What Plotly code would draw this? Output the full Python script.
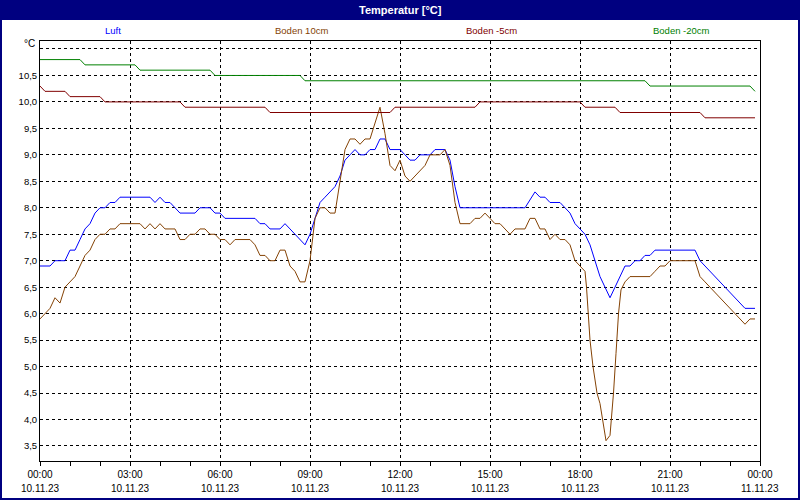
import plotly.graph_objects as go
import pandas as pd

DAY = "2023-11-10 "

# Luft (air temperature)
luft_t = ["00:00","00:20","00:30","00:50","01:00","01:10","01:20","01:30","01:40","01:50",
          "02:00","02:10","02:20","02:30","02:40","03:40","03:50","04:00","04:10","04:20",
          "04:30","04:40","05:10","05:20","05:40","05:50","06:00","06:10","07:10","07:20",
          "07:30","07:40","08:00","08:10","08:20","08:30","08:40","08:50","09:00","09:10",
          "09:20","09:30","09:40","09:50","10:00","10:10","10:20","10:30","10:40","10:50",
          "11:00","11:10","11:20","11:30","11:40","12:00","12:10","12:20","12:30","12:40",
          "13:00","13:10","13:30","13:40","13:50","14:00","16:10","16:30","16:40","16:50",
          "17:00","17:20","17:30","17:40","17:50","18:00","18:10","18:20","18:30","18:40",
          "18:50","19:00","19:10","19:20","19:30","19:40","19:50","20:00","20:10","20:20",
          "20:30","21:50","22:00","22:10","22:30","23:00","23:30","23:50"]
luft_v = [6.9,6.9,7.0,7.0,7.2,7.2,7.4,7.6,7.7,7.9,
          8.0,8.0,8.1,8.1,8.2,8.2,8.1,8.2,8.1,8.1,
          8.0,7.9,7.9,8.0,8.0,7.9,7.9,7.8,7.8,7.7,
          7.7,7.6,7.6,7.7,7.6,7.5,7.4,7.3,7.5,7.8,
          8.1,8.2,8.3,8.4,8.6,8.9,9.0,9.1,9.0,9.0,
          9.1,9.1,9.3,9.3,9.1,9.1,9.0,8.9,8.9,9.0,
          9.0,9.1,9.1,8.9,8.4,8.0,8.0,8.3,8.2,8.2,
          8.1,8.1,8.0,7.9,7.7,7.6,7.5,7.3,7.0,6.7,
          6.5,6.3,6.5,6.7,6.9,6.9,7.0,7.0,7.1,7.1,
          7.2,7.2,7.0,6.9,6.7,6.4,6.1,6.1]

# Boden 10cm
b10_t = ["00:00","00:10","00:20","00:30","00:40","00:50","01:00","01:10","01:20","01:30",
         "01:40","01:50","02:00","02:10","02:20","02:30","02:40","03:20","03:30","03:40",
         "03:50","04:00","04:10","04:30","04:40","04:50","05:00","05:10","05:20","05:30",
         "05:40","05:50","06:00","06:10","06:20","06:30","07:00","07:10","07:20","07:30",
         "07:40","07:50","08:00","08:10","08:20","08:30","08:40","08:50","09:00","09:10",
         "09:20","09:30","09:40","09:50","10:00","10:10","10:20","10:30","10:40","10:50",
         "11:00","11:10","11:20","11:30","11:40","11:50","12:00","12:10","12:20","12:30",
         "12:40","12:50","13:00","13:20","13:30","13:40","13:50","14:00","14:20","14:30",
         "14:40","14:50","15:00","15:10","15:20","15:30","15:40","15:50","16:10","16:20",
         "16:30","16:40","16:50","17:00","17:10","17:20","17:30","17:40","17:50","18:00",
         "18:10","18:13","18:20","18:26","18:34","18:40","18:47","18:52","19:00","19:07",
         "19:12","19:17","19:22","19:30","19:40","20:20","20:30","20:40","20:50","21:00",
         "21:50","22:00","22:10","22:30","23:00","23:30","23:40","23:50"]
b10_v = [5.9,6.0,6.1,6.3,6.2,6.5,6.6,6.7,6.9,7.1,
         7.2,7.4,7.5,7.5,7.6,7.6,7.7,7.7,7.6,7.7,
         7.6,7.7,7.6,7.6,7.4,7.4,7.5,7.5,7.6,7.6,
         7.5,7.5,7.4,7.4,7.3,7.4,7.4,7.3,7.1,7.1,
         7.0,7.0,7.2,7.2,6.9,6.8,6.6,6.6,7.0,7.8,
         8.0,8.0,7.9,7.9,8.5,9.1,9.3,9.3,9.2,9.3,
         9.3,9.6,9.9,9.4,8.8,8.7,8.9,8.6,8.5,8.6,
         8.7,8.8,9.0,9.0,9.1,8.8,8.1,7.7,7.7,7.8,
         7.8,7.9,7.8,7.7,7.7,7.6,7.5,7.6,7.6,7.8,
         7.8,7.6,7.6,7.4,7.5,7.4,7.4,7.3,7.0,6.9,
         6.8,6.5,5.5,5.0,4.5,4.3,3.9,3.6,3.7,4.5,
         5.25,6.0,6.45,6.6,6.7,6.7,6.8,6.9,6.9,7.0,
         7.0,6.7,6.6,6.4,6.1,5.8,5.9,5.9]

# Boden -5cm
b5_t = ["00:00","00:10","00:50","01:00","02:00","02:10","04:40","04:50","07:30","07:40",
        "11:40","11:50","14:30","14:40","18:00","18:10","19:10","19:20","22:00","22:10","23:50"]
b5_v = [10.3,10.2,10.2,10.1,10.1,10.0,10.0,9.9,9.9,9.8,
        9.8,9.9,9.9,10.0,10.0,9.9,9.9,9.8,9.8,9.7,9.7]

# Boden -20cm
b20_t = ["00:00","01:20","01:30","03:10","03:20","05:40","05:50","08:40","08:50",
         "20:10","20:20","23:40","23:50"]
b20_v = [10.8,10.8,10.7,10.7,10.6,10.6,10.5,10.5,10.4,10.4,10.3,10.3,10.2]

series_names = ["Luft", "Boden 10cm", "Boden -5cm", "Boden -20cm"]
series_colors = ["#0000FF", "#844204", "#800000", "#008000"]

y_ticks = [3.5, 4.0, 4.5, 5.0, 5.5, 6.0, 6.5, 7.0, 7.5, 8.0, 8.5, 9.0, 9.5, 10.0, 10.5, 11.0]
y_labels = ["3,5", "4,0", "4,5", "5,0", "5,5", "6,0", "6,5", "7,0", "7,5", "8,0",
            "8,5", "9,0", "9,5", "10,0", "10,5", ""]
x_ticks = ["2023-11-10 00:00", "2023-11-10 03:00", "2023-11-10 06:00", "2023-11-10 09:00",
           "2023-11-10 12:00", "2023-11-10 15:00", "2023-11-10 18:00", "2023-11-10 21:00",
           "2023-11-11 00:00"]
x_time_labels = ["00:00", "03:00", "06:00", "09:00", "12:00", "15:00", "18:00", "21:00", "00:00"]
x_date_labels = ["10.11.23", "10.11.23", "10.11.23", "10.11.23", "10.11.23", "10.11.23",
                 "10.11.23", "10.11.23", "11.11.23"]

FONT = "Liberation Sans"

def to_dt(ts):
    return pd.to_datetime([DAY + t for t in ts])

fig = go.Figure()
for t, v, name, col in [(luft_t, luft_v, series_names[0], series_colors[0]),
                        (b10_t, b10_v, series_names[1], series_colors[1]),
                        (b5_t, b5_v, series_names[2], series_colors[2]),
                        (b20_t, b20_v, series_names[3], series_colors[3])]:
    fig.add_trace(go.Scatter(x=to_dt(t), y=v, mode="lines", name=name,
                             line=dict(color=col, width=1)))

W, H = 800, 500
ml, mr, mt, mb = 40, 40, 41, 39
pw, ph = W - ml - mr, H - mt - mb

def px_x(px):
    return (px - ml) / pw

def px_y(py):
    return (H - mb - py) / ph

annotations = [
    dict(text="<b>Temperatur [°C]</b>", x=px_x(400), y=px_y(10), xref="paper", yref="paper",
         showarrow=False, font=dict(family=FONT, size=11, color="white"),
         xanchor="center", yanchor="middle"),
    dict(text="°C", x=px_x(37), y=px_y(44), xref="paper", yref="paper", showarrow=False,
         font=dict(family=FONT, size=10, color="black"), xanchor="right", yanchor="middle"),
]
for name, col, cx in zip(series_names, series_colors, [113, 301, 491, 681]):
    annotations.append(dict(text=name, x=px_x(cx), y=px_y(30), xref="paper", yref="paper",
                            showarrow=False, font=dict(family=FONT, size=9.5, color=col),
                            xanchor="center", yanchor="middle"))
for tv, dl in zip(x_ticks, x_date_labels):
    annotations.append(dict(text=dl, x=tv, y=px_y(488), xref="x", yref="paper",
                            showarrow=False, font=dict(family=FONT, size=10, color="black"),
                            xanchor="center", yanchor="middle"))

shapes = [
    dict(type="rect", xref="paper", yref="paper", x0=px_x(0), x1=px_x(800),
         y0=px_y(20), y1=px_y(0), fillcolor="#000080", line=dict(width=0), layer="above"),
    dict(type="rect", xref="paper", yref="paper", x0=px_x(1), x1=px_x(799),
         y0=px_y(499), y1=px_y(1), line=dict(color="#000080", width=2), layer="above"),
]

fig.update_layout(
    width=W, height=H,
    margin=dict(l=ml, r=mr, t=mt, b=mb),
    paper_bgcolor="white", plot_bgcolor="white",
    showlegend=False,
    font=dict(family=FONT, size=9.5, color="black"),
    annotations=annotations,
    shapes=shapes,
    xaxis=dict(
        type="date",
        range=["2023-11-10 00:00", "2023-11-11 00:00"],
        tickmode="array", tickvals=x_ticks, ticktext=x_time_labels,
        showgrid=True, gridcolor="black", gridwidth=1, griddash="3px,3px",
        showline=True, linecolor="black", linewidth=1, mirror=True,
        ticks="outside", ticklen=4, tickcolor="black", ticklabelstandoff=0,
        minor=dict(tickmode="linear", tick0="2023-11-10 00:00", dtick=3600000,
                   ticks="outside", ticklen=4, tickcolor="black", showgrid=False),
        zeroline=False, fixedrange=True, automargin=False,
        tickfont=dict(family=FONT, size=10, color="black"),
    ),
    yaxis=dict(
        range=[3.216, 11.151],
        tickmode="array", tickvals=y_ticks, ticktext=y_labels,
        showgrid=True, gridcolor="black", gridwidth=1, griddash="3px,3px",
        showline=True, linecolor="black", linewidth=1, mirror=True,
        ticks="", zeroline=False, fixedrange=True, automargin=False,
        tickfont=dict(family=FONT, size=9.5, color="black"),
    ),
)

fig.write_html(
    "out.html",
    config={"displayModeBar": False},
    post_script="document.body.style.margin='0';document.body.style.padding='0';"
                "document.body.style.overflow='hidden';",
)
